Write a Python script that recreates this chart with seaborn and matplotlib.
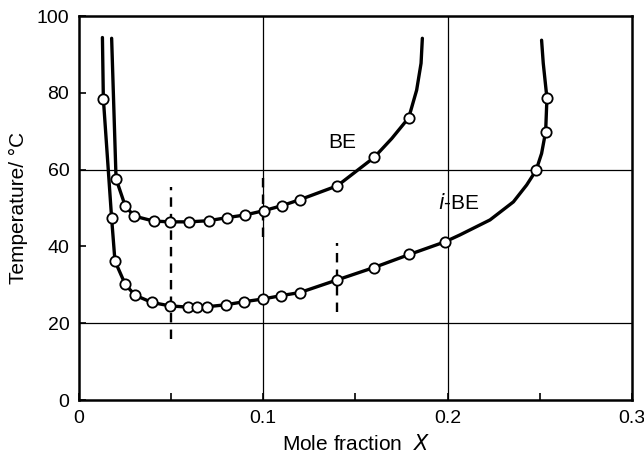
import matplotlib
matplotlib.use("Agg")
import matplotlib.pyplot as plt
import seaborn as sns
import pandas as pd

# --- measured points (open circles) ---
BE_X = [0.0201, 0.0251, 0.0300, 0.0405, 0.0496, 0.0597, 0.0704, 0.0803, 0.0902,
        0.1002, 0.1100, 0.1200, 0.1402, 0.1602, 0.1789]
BE_T = [57.6, 50.5, 47.9, 46.6, 46.4, 46.4, 46.7, 47.5, 48.2,
        49.3, 50.6, 52.2, 55.8, 63.2, 73.5]

IBE_X = [0.0132, 0.0177, 0.0195, 0.0251, 0.0304, 0.0396, 0.0496, 0.0590, 0.0639,
         0.0695, 0.0796, 0.0895, 0.0997, 0.1098, 0.1199, 0.1402, 0.1600, 0.1792,
         0.1986, 0.2480, 0.2532, 0.2539]
IBE_T = [78.5, 47.3, 36.2, 30.1, 27.3, 25.4, 24.5, 24.2, 24.2,
         24.3, 24.8, 25.6, 26.3, 27.2, 28.0, 31.3, 34.5, 37.9,
         41.2, 59.8, 69.9, 78.6]

# --- extra points (no markers) ---
# the number in *_ORDER puts them in place along the curve
BE_TRACE_X = [0.0177, 0.1697, 0.1832, 0.1856, 0.1863]
BE_TRACE_T = [94.2, 68.1, 80.7, 87.7, 94.2]
BE_TRACE_ORDER = [1, 15.5, 16.5, 17, 18]
IBE_TRACE_X = [0.0127, 0.2067, 0.2230, 0.2357, 0.2429, 0.2510, 0.2519, 0.2510]
IBE_TRACE_T = [94.4, 43.0, 46.9, 51.6, 56.0, 64.2, 87.7, 93.7]
IBE_TRACE_ORDER = [1, 20.1, 20.3, 20.6, 20.8, 21.5, 23.5, 24]

# dashed guide segments: x, y from, y to
DASH_X = [0.05, 0.10, 0.14]
DASH_LO = [16, 42.5, 23]
DASH_HI = [55.5, 58, 41]

GRID_X = [0.1, 0.2]
GRID_Y = [20, 60]


def main():
    sns.set_theme(style="ticks")
    plt.rcParams["font.family"] = ["Liberation Sans", "DejaVu Sans"]
    for k in ("text.color", "axes.labelcolor", "xtick.color", "ytick.color"):
        plt.rcParams[k] = "black"

    fig = plt.figure(figsize=(6.44, 4.63), dpi=100)
    ax = fig.add_axes([0.1227, 0.136, 0.8585, 0.8294])

    for gx in GRID_X:
        ax.axvline(gx, color="black", lw=0.9, zorder=1)
    for gy in GRID_Y:
        ax.axhline(gy, color="black", lw=0.9, zorder=1)
    ax.vlines(DASH_X, DASH_LO, DASH_HI, colors="black", linestyles=(0, (4, 3)),
              lw=1.7, zorder=1)

    be = pd.DataFrame({"x": BE_X + BE_TRACE_X, "T": BE_T + BE_TRACE_T,
                       "o": [2 + i for i in range(len(BE_X))] + BE_TRACE_ORDER})
    ibe = pd.DataFrame({"x": IBE_X + IBE_TRACE_X, "T": IBE_T + IBE_TRACE_T,
                        "o": [2 + i for i in range(len(IBE_X))] + IBE_TRACE_ORDER})

    for df in (be.sort_values("o"), ibe.sort_values("o")):
        sns.lineplot(data=df, x="x", y="T", sort=False, estimator=None,
                     color="black", lw=2.4, ax=ax, zorder=2)

    pts = pd.DataFrame({"x": BE_X + IBE_X, "T": BE_T + IBE_T})
    sns.scatterplot(data=pts, x="x", y="T", s=55, color="white",
                    edgecolor="black", linewidth=1.3, ax=ax, zorder=3)

    ax.text(0.143, 67, "BE", fontsize=15, ha="center", va="center")
    ax.text(0.206, 51.3, "$\\it{i}$-BE", fontsize=15, ha="center", va="center")

    ax.set_xlim(0, 0.3)
    ax.set_ylim(0, 100)
    ax.set_xticks([0, 0.1, 0.2, 0.3])
    ax.set_xticklabels(["0", "0.1", "0.2", "0.3"])
    ax.set_xticks([0.05, 0.15, 0.25], minor=True)
    ax.set_yticks([0, 20, 40, 60, 80, 100])
    ax.tick_params(which="both", direction="in", labelsize=14, width=1.2,
                   length=5, pad=7)
    for s in ax.spines.values():
        s.set_linewidth(1.8)
        s.set_color("black")

    ax.set_xlabel("Mole fraction  $\\it{X}$", fontsize=15, labelpad=5)
    ax.set_ylabel("Temperature/ °C", fontsize=15, labelpad=6)

    fig.savefig("out.png", dpi=100)


if __name__ == "__main__":
    main()
